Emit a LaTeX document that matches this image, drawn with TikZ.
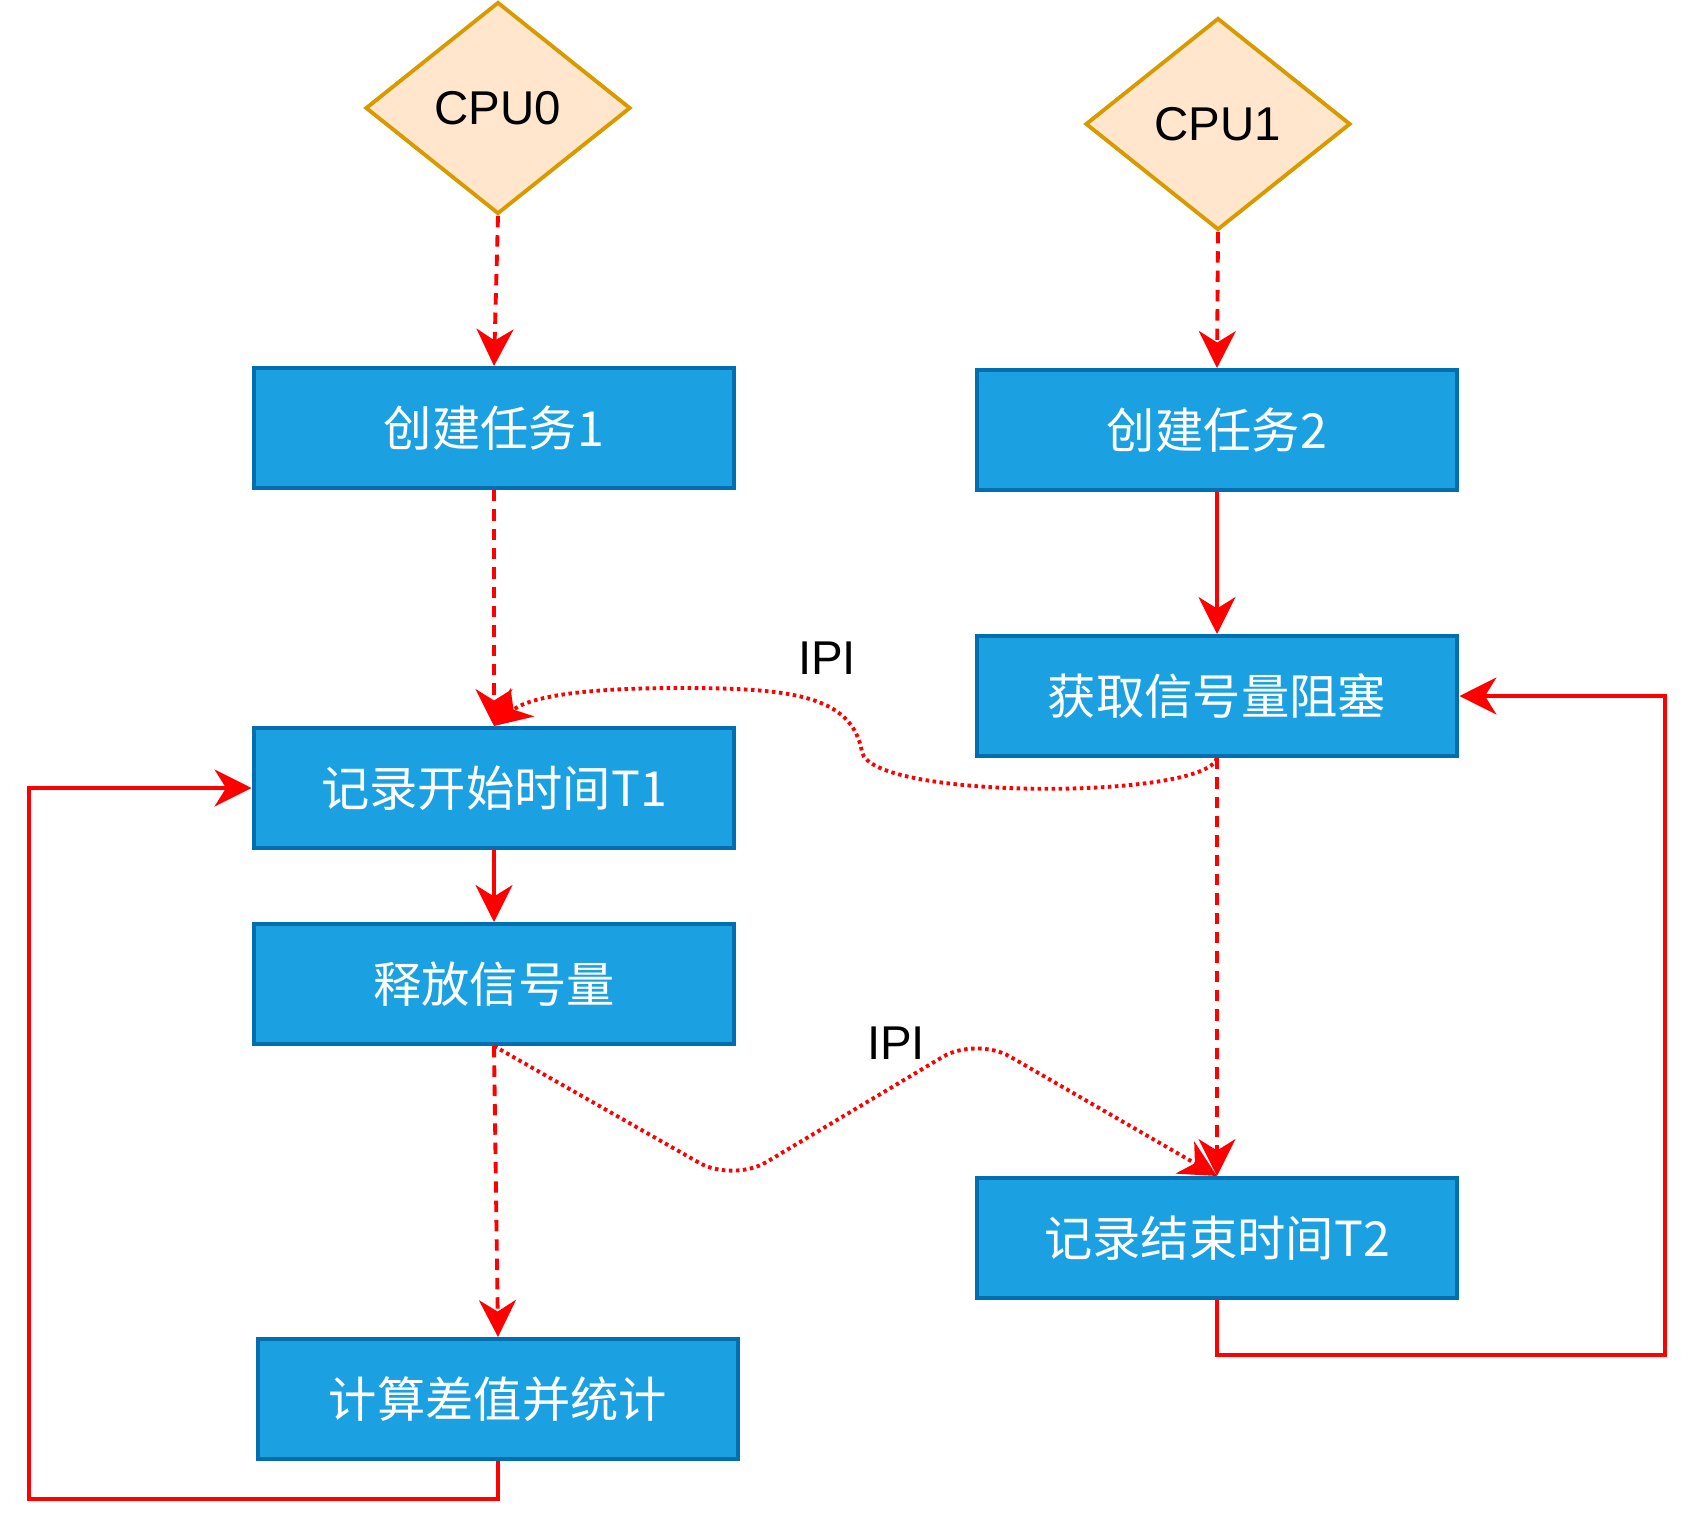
\documentclass[tikz,border=0pt]{standalone}
\usepackage{fontspec}
\setmainfont{Liberation Sans}
\newfontfamily\cjk{Noto Sans CJK SC}
\usetikzlibrary{shapes.geometric,arrows.meta}
\definecolor{boxfill}{HTML}{1BA1E2}
\definecolor{boxline}{HTML}{006EAF}
\definecolor{cpufill}{HTML}{FFE6CC}
\definecolor{cpuline}{HTML}{D79B00}
\definecolor{lred}{HTML}{FF0000}
\begin{document}
\begin{tikzpicture}[x=0.02cm,y=-0.02cm,
  taskbox/.style={draw=boxline, fill=boxfill, line width=2.3pt, minimum width=9.62cm, minimum height=2.4cm, inner sep=0pt, text=white, font=\cjk\fontsize{27.5pt}{31pt}\selectfont},
  cpunode/.style={diamond, draw=cpuline, fill=cpufill, line width=2.2pt, minimum width=5.3cm, minimum height=4.24cm, inner sep=0pt, font=\fontsize{27pt}{31pt}\selectfont},
  lbl/.style={font=\fontsize{27pt}{31pt}\selectfont, inner sep=0pt},
  link/.style={draw=lred, line width=2.2pt, -{Stealth[length=21pt,width=21pt,inset=6.5pt]}},
  dlink/.style={link, dash pattern=on 6.5pt off 4.5pt},
  olink/.style={link, dash pattern=on 2pt off 2pt},
  plain/.style={draw=lred, line width=2.2pt}
]
\useasboundingbox (0,0) rectangle (1700,1536);

\node[cpunode] (cpu0) at (498,108) {CPU0};
\node[cpunode] (cpu1) at (1218,124) {CPU1};

\node[taskbox] (task1) at (494,428) {创建任务1};
\node[taskbox] (task2) at (1217,430) {创建任务2};
\node[taskbox] (get) at (1217,696) {获取信号量阻塞};
\node[taskbox] (rec1) at (494,788) {记录开始时间T1};
\node[taskbox] (rel) at (494,984) {释放信号量};
\node[taskbox] (calc) at (498,1399) {计算差值并统计};
\node[taskbox] (rec2) at (1217,1238) {记录结束时间T2};

\node[lbl] (ipi1) at (827,658) {IPI};
\node[lbl] (ipi2) at (896,1043) {IPI};

\coordinate (lA) at (29,1499);
\coordinate (lB) at (1665,1355);
\coordinate (trough) at (733,1182);
\coordinate (peak) at (976,1037);

\draw[dlink] (cpu0.south) -- (task1.north);
\draw[dlink] (cpu1.south) -- (task2.north);
\draw[link] (task2.south) -- (get.north);
\draw[dlink] (task1.south) -- (rec1.north);
\draw[link] (rec1.south) -- (rel.north);
\draw[dlink] (rel.south) -- (calc.north);
\draw[dlink] (get.south) -- (rec2.north);

\draw[link] (calc.south) |- (lA) |- (rec1.west);
\draw[link] (rec2.south) |- (lB) |- (get.east);

\draw[olink] (get.south) .. controls (1205,800) and (872,800) .. (862,752)
  .. controls (852,695) and (790,688) .. (680,688)
  .. controls (565,688) and (525,700) .. (rec1.north);

\draw[olink, rounded corners=22pt] (rel.south) -- (trough) -- (peak) -- (rec2.north);
\end{tikzpicture}
\end{document}
